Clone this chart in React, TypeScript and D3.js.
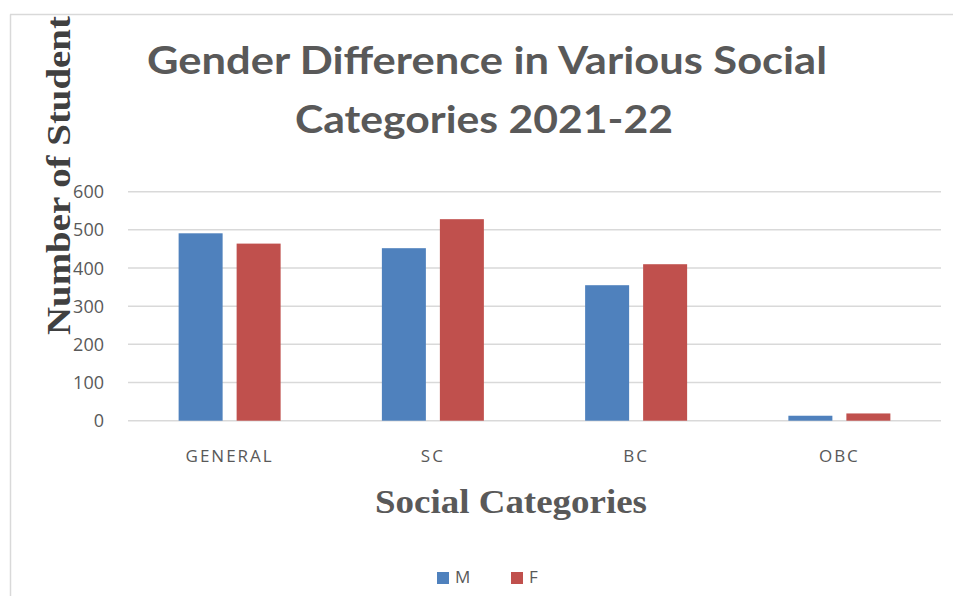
import React from "react";
import * as d3 from "d3";

const categories = ["GENERAL", "SC", "BC", "OBC"];
const seriesNames = ["M", "F"];
const maleValues = [491, 452, 355, 13];
const femaleValues = [464, 528, 410, 19];
const yTicks = [0, 100, 200, 300, 400, 500, 600];
const titleLines = ["Gender Difference in Various Social", "Categories 2021-22"];
const colors = ["#4F81BD", "#C0504D"];

const W = 953;
const H = 596;
const plot = { left: 128, right: 941, top: 191.7, bottom: 420.7 };

export default function App() {
  const x0 = d3.scaleBand<string>().domain(categories).range([plot.left, plot.right]).padding(0);
  const x1 = d3.scaleBand<string>().domain(seriesNames).range([0, 102]).paddingInner(14 / 58).paddingOuter(0);
  const y = d3.scaleLinear().domain([0, 600]).range([plot.bottom, plot.top]);
  const series = [maleValues, femaleValues];
  const textGray = "#595959";

  return (
    <svg width={W} height={H} style={{ position: "fixed", left: 0, top: 0, background: "#fff" }}>
      <defs>
        <clipPath id="chartClip">
          <rect x={10} y={15} width={W - 10} height={H - 15} />
        </clipPath>
      </defs>
      <rect x={0} y={0} width={W} height={H} fill="#fff" />
      <line x1={10} x2={W} y1={14.5} y2={14.5} stroke="#d9d9d9" strokeWidth={1.5} />
      <line x1={10.5} x2={10.5} y1={14.5} y2={H} stroke="#d9d9d9" strokeWidth={1.5} />

      {titleLines.map((t, i) => (
        <text
          key={t}
          x={i === 0 ? 487 : 484}
          y={i === 0 ? 74 : 133}
          textAnchor="middle"
          fontFamily="Lato, 'Open Sans', sans-serif"
          fontWeight="bold"
          fontSize={38}
          fill={textGray}
          textLength={i === 0 ? 680 : 378}
          lengthAdjust="spacingAndGlyphs"
        >
          {t}
        </text>
      ))}

      {yTicks.map((v) => (
        <g key={v}>
          <line x1={plot.left} x2={plot.right} y1={y(v)} y2={y(v)} stroke="#d9d9d9" strokeWidth={1.5} />
          <text
            x={104}
            y={y(v)}
            dy="0.36em"
            textAnchor="end"
            fontFamily="'Open Sans', sans-serif"
            fontSize={18}
            fill={textGray}
          >
            {v}
          </text>
        </g>
      ))}

      {categories.map((c, ci) => {
        const offset = (x0(c) as number) + (x0.bandwidth() - 102) / 2;
        return (
          <g key={c}>
            {seriesNames.map((s, si) => (
              <rect
                key={s}
                x={offset + (x1(s) as number)}
                y={y(series[si][ci])}
                width={x1.bandwidth()}
                height={plot.bottom - y(series[si][ci])}
                fill={colors[si]}
              />
            ))}
            <text
              x={(x0(c) as number) + x0.bandwidth() / 2}
              y={462}
              textAnchor="middle"
              fontFamily="'Open Sans', sans-serif"
              fontSize={17}
              letterSpacing={2}
              fill={textGray}
            >
              {c}
            </text>
          </g>
        );
      })}

      <g clipPath="url(#chartClip)">
        <text
          transform="translate(70,335) rotate(-90)"
          x={0}
          y={0}
          textAnchor="start"
          fontFamily="'Liberation Serif', 'Times New Roman', serif"
          fontWeight="bold"
          fontSize={33}
          fill="#404040"
          textLength={334}
          lengthAdjust="spacingAndGlyphs"
        >
          Number of Students
        </text>
      </g>

      <text
        x={511}
        y={513}
        textAnchor="middle"
        fontFamily="'Liberation Serif', 'Times New Roman', serif"
        fontWeight="bold"
        fontSize={33}
        fill={textGray}
        textLength={272}
        lengthAdjust="spacingAndGlyphs"
      >
        Social Categories
      </text>

      {seriesNames.map((s, i) => (
        <g key={s} transform={`translate(${i === 0 ? 437 : 511},0)`}>
          <rect x={0} y={572} width={12} height={12} fill={colors[i]} />
          <text x={18} y={583} fontFamily="'Open Sans', sans-serif" fontSize={17} fill={textGray}>
            {s}
          </text>
        </g>
      ))}
    </svg>
  );
}
